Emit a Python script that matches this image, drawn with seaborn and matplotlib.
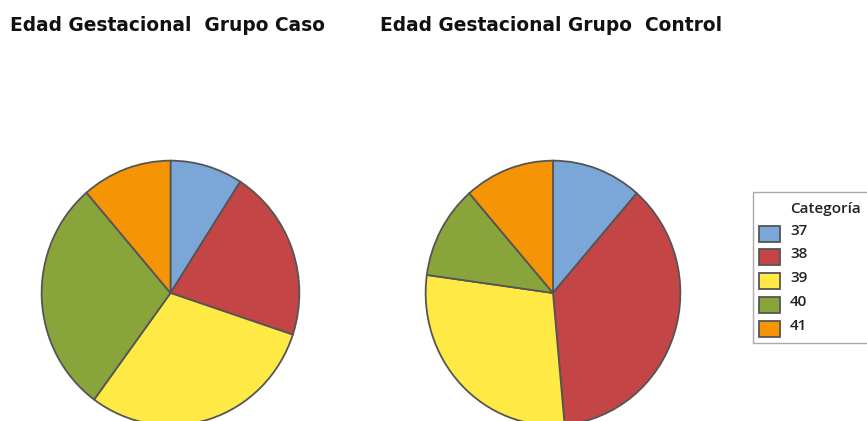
import matplotlib
matplotlib.use("Agg")
import matplotlib.pyplot as plt
import matplotlib.patches as mpatches
import seaborn as sns

sns.set_theme(style="white")
plt.rcParams["font.family"] = ["DejaVu Sans"]

# Gestational age categories (weeks)
categorias = ["37", "38", "39", "40", "41"]
# Share of each category (%) per group
caso = [9.1, 21.0, 30.0, 28.6, 11.3]
control = [11.4, 37.1, 28.6, 11.4, 11.4]
titulos = ["Edad Gestacional  Grupo Caso", "Edad Gestacional Grupo  Control"]

colores = sns.color_palette(["#7BA7D8", "#C44545", "#FFE944", "#89A43B", "#F59506"])
borde = "#555555"

W, H = 867, 421
fig = plt.figure(figsize=(W / 100, H / 100), dpi=100)


def fx(x):
    return x / W


def fy(y):
    return 1 - y / H


def px_axes(x0, y0, x1, y1):
    return fig.add_axes([fx(x0), fy(y1), (x1 - x0) / W, (y1 - y0) / H])


boxes = [(41, 160, 300, 426), (425, 160, 681, 426)]
for vals, (x0, y0, x1, y1) in zip([caso, control], boxes):
    ax = px_axes(x0, y0, x1, y1)
    ax.pie(vals, colors=colores, startangle=90, counterclock=False,
           wedgeprops=dict(edgecolor=borde, linewidth=1.3))
    ax.set_xlim(-1.005, 1.005)
    ax.set_ylim(-1.005, 1.005)
    ax.set_aspect("auto")
    ax.axis("off")

titulo_kw = dict(fontsize=13.4, fontweight="bold", ha="left", va="baseline",
                 family=["DejaVu Sans"], color="#111111")
fig.text(fx(10), fy(31), titulos[0], **titulo_kw)
fig.text(fx(380), fy(31), titulos[1], **titulo_kw)

# Legend box: frame, swatches and labels
leg_font = dict(family=["Open Sans", "DejaVu Sans"], fontweight="semibold",
                fontsize=11, color="#222222")
fig.patches.append(mpatches.Rectangle((fx(753), fy(343)), (900 - 753) / W, (343 - 192) / H,
                                      transform=fig.transFigure, facecolor="white",
                                      edgecolor="#AAAAAA", linewidth=1.0))
fig.text(fx(790), fy(209), "Categoría", va="center", ha="left", **leg_font)
centros = [234, 257, 281, 305, 329]
for c, lab, yc in zip(colores, categorias, centros):
    fig.patches.append(mpatches.Rectangle((fx(759), fy(yc + 8)), 21 / W, 16 / H,
                                          transform=fig.transFigure, facecolor=c,
                                          edgecolor="#555555", linewidth=1.3))
    fig.text(fx(790), fy(yc - 3), lab, va="center", ha="left", **leg_font)

fig.savefig("out.png", dpi=100, facecolor="white")
